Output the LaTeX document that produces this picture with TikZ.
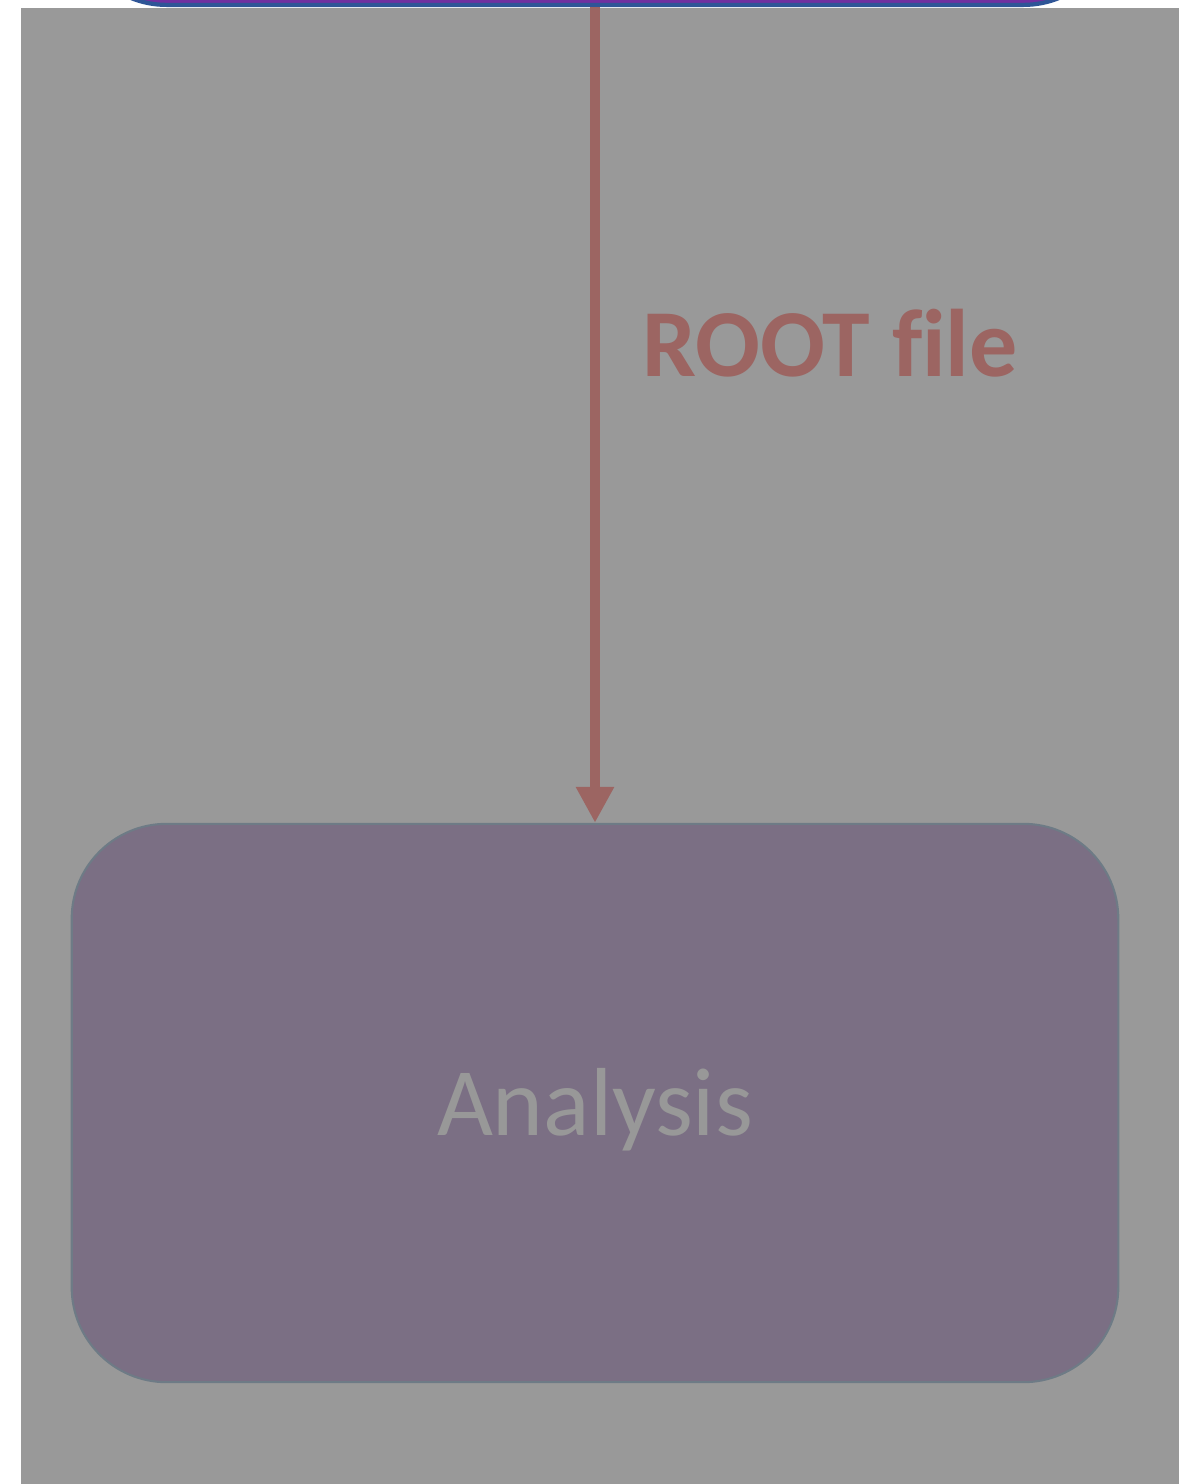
\documentclass[tikz,border=0pt]{standalone}
\usepackage{fontspec}
\setmainfont[Ligatures=NoCommon]{Carlito}
\usetikzlibrary{arrows.meta}
\definecolor{bg}{HTML}{999999}
\definecolor{topfill}{HTML}{7030A0}
\definecolor{topline}{HTML}{2F5597}
\definecolor{boxfill}{HTML}{7B6F84}
\definecolor{boxline}{HTML}{6E7B86}
\definecolor{arrowc}{HTML}{9C6562}
\definecolor{txtc}{HTML}{989898}
\tikzset{
  procbox/.style={draw=boxline, line width=0.6pt, fill=boxfill, rounded corners=27pt, inner sep=0pt},
  topbox/.style={draw=topline, line width=1.2pt, fill=topfill, rounded corners=27pt, inner sep=0pt},
  flow/.style={draw=arrowc, line width=2.85pt, -{Triangle[length=10.2pt,width=10.2pt]}},
}
\begin{document}
\begin{tikzpicture}[x=0.01cm,y=-0.01cm]
\useasboundingbox (0,0) rectangle (1179,1484);
\fill[white] (0,0) rectangle (1179,1484);
\fill[bg] (21,8) rectangle (1179,1484);
\begin{scope}
\clip (0,0) rectangle (1179,1484);
\node[topbox, minimum width=10.46cm, minimum height=3cm, anchor=south] (top) at (595,7) {};
\end{scope}
\node[procbox, minimum width=10.46cm, minimum height=5.58cm] (analysis) at (595,1103) {};
\node[text=txtc, font=\fontsize{27.5}{33}\selectfont] at ([yshift=-0.07cm]analysis.center) {Analysis};
\draw[flow] (top.south) -- (analysis.north);
\node[text=arrowc, font=\bfseries\fontsize{27.3}{33}\selectfont] (lbl) at (830,343) {ROOT file};
\end{tikzpicture}
\end{document}
